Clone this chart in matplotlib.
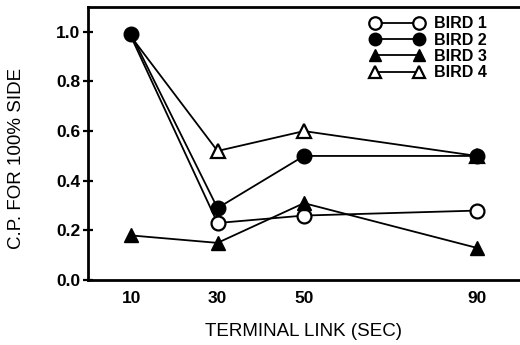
import matplotlib
matplotlib.use("Agg")
import matplotlib.pyplot as plt

# terminal link duration (sec) and choice proportion for each bird
terminal_link = [10, 30, 50, 90]
bird1 = [0.98, 0.23, 0.26, 0.28]
bird2 = [0.99, 0.29, 0.50, 0.50]
bird3 = [0.18, 0.15, 0.31, 0.13]
bird4 = [0.98, 0.52, 0.60, 0.50]
y_ticks = [0.0, 0.2, 0.4, 0.6, 0.8, 1.0]

plt.rcParams['font.family'] = ['Liberation Sans', 'DejaVu Sans']

fig = plt.figure(figsize=(5.2, 3.45), dpi=100)
ax = fig.add_axes([0.169, 0.188, 0.831, 0.792])

lw = 1.3
# birds 1 and 4 start under the filled bird 2 marker at 10 sec
ax.plot(terminal_link, bird1, '-o', color='black', mfc='white', mec='black',
        mew=1.6, ms=10, lw=lw, label='BIRD 1', markevery=[1, 2, 3], zorder=3)
ax.plot(terminal_link, bird2, '-o', color='black', mfc='black', mec='black',
        ms=10.5, lw=lw, label='BIRD 2', zorder=4)
ax.plot(terminal_link, bird3, '-^', color='black', mfc='black', mec='black',
        ms=10, lw=lw, label='BIRD 3', zorder=3)
ax.plot(terminal_link, bird4, '-^', color='black', mfc='white', mec='black',
        mew=1.6, ms=9.5, lw=lw, label='BIRD 4', markevery=[1, 2, 3], zorder=3)

ax.set_xlim(0, 100)
ax.set_ylim(0, 1.1)
ax.set_xticks(terminal_link)
ax.set_xticklabels([str(t) for t in terminal_link], fontsize=12.5, fontweight='bold')
ax.set_yticks(y_ticks)
ax.set_yticklabels(['%.1f' % v for v in y_ticks], fontsize=12.5, fontweight='bold')
ax.tick_params(axis='x', length=0, pad=8)
ax.tick_params(axis='y', direction='inout', length=7, width=1.6, pad=2)

for side in ['left', 'top', 'bottom']:
    ax.spines[side].set_linewidth(2)
ax.spines['right'].set_visible(False)

ax.set_xlabel('TERMINAL LINK (SEC)', fontsize=13.5, labelpad=12)
ax.set_ylabel('C.P. FOR 100% SIDE', fontsize=13.5)
ax.yaxis.set_label_coords(-0.146, 0.445)

leg = ax.legend(loc='upper right', bbox_to_anchor=(0.945, 1.0), frameon=False,
                numpoints=2, handlelength=3.4, handletextpad=0.6,
                labelspacing=0.08, borderaxespad=0.2,
                prop={'size': 11.5, 'weight': 'bold'})
for h in leg.legend_handles:
    h.set_markersize(9)
    h.set_markevery(None)

fig.savefig('out.png', dpi=100)
